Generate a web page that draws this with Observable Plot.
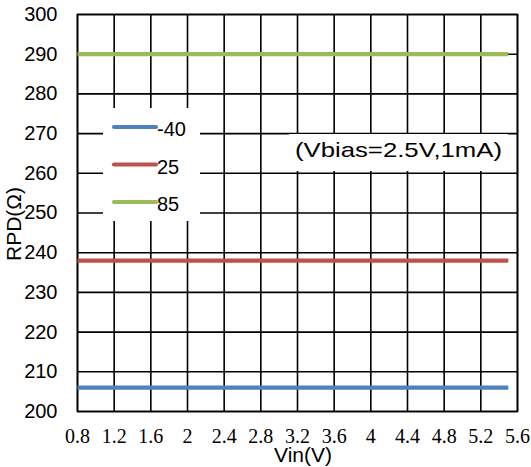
<!DOCTYPE html>
<html>
<head>
<meta charset="utf-8">
<script src="https://cdn.jsdelivr.net/npm/d3@7"></script>
<script src="https://cdn.jsdelivr.net/npm/@observablehq/plot@0.6"></script>
<style>
  html, body { margin: 0; padding: 0; background: white; }
  #chart svg { display: block; }
</style>
</head>
<body>
<div id="chart"></div>
<script>
// ---- data ----
const vin = [0.8, 5.5];                 // Vin (V), line extent
const rpdMinus40 = [206, 206];          // RPD (Ω) at -40
const rpd25 = [238, 238];               // RPD (Ω) at 25
const rpd85 = [290, 290];               // RPD (Ω) at 85
const seriesNames = ["-40", "25", "85"];
const seriesColors = ["#4F81BD", "#C0504D", "#9BBB59"];
const xTicks = [0.8, 1.2, 1.6, 2, 2.4, 2.8, 3.2, 3.6, 4, 4.4, 4.8, 5.2, 5.6];
const xTickLabels = ["0.8", "1.2", "1.6", "2", "2.4", "2.8", "3.2", "3.6", "4", "4.4", "4.8", "5.2", "5.6"];
const yTicks = [200, 210, 220, 230, 240, 250, 260, 270, 280, 290, 300];
const annotation = "(Vbias=2.5V,1mA)";
const xLabel = "Vin(V)";
const yLabel = "RPD(Ω)";

const seriesValues = [rpdMinus40, rpd25, rpd85];
const rows = [];
seriesNames.forEach((name, s) => {
  vin.forEach((v, i) => rows.push({vin: v, rpd: seriesValues[s][i], series: name}));
});

const W = 531, H = 467;
const chart = Plot.plot({
  width: W,
  height: H,
  marginLeft: 77,
  marginRight: 14,
  marginTop: 14,
  marginBottom: 56,
  style: {fontFamily: "'Liberation Sans', Arial, sans-serif", background: "white", color: "black"},
  x: {domain: [0.8, 5.6]},
  y: {domain: [200, 300]},
  color: {domain: seriesNames, range: seriesColors},
  marks: [
    Plot.gridX(xTicks, {stroke: "black", strokeOpacity: 1, strokeWidth: 1.6}),
    Plot.gridY(yTicks, {stroke: "black", strokeOpacity: 1, strokeWidth: 1.6}),
    Plot.frame({stroke: "black", strokeWidth: 1.6}),
    Plot.axisY(yTicks, {tickSize: 0, tickPadding: 20, fontSize: 20, label: null,
      fontFamily: "'Liberation Sans', Arial, sans-serif"}),
    Plot.axisX(xTicks, {tickSize: 0, tickPadding: 17, fontSize: 20, label: null,
      tickFormat: (d) => xTickLabels[xTicks.indexOf(d)],
      fontFamily: "'Liberation Serif', 'Times New Roman', serif"}),
    Plot.line(rows, {x: "vin", y: "rpd", z: "series", stroke: "series", strokeWidth: 4.2, strokeLinecap: "butt"})
  ]
});

const svg = d3.select(chart);
const SANS = "'Liberation Sans', Arial, sans-serif";

// legend box
const lg = svg.append("g").attr("text-anchor", "start");
lg.append("rect").attr("x", 103).attr("y", 108).attr("width", 97).attr("height", 113).attr("fill", "white");
seriesNames.forEach((name, i) => {
  const y = 127 + i * 37.5;
  lg.append("line").attr("x1", 114).attr("x2", 156).attr("y1", y).attr("y2", y)
    .attr("stroke", seriesColors[i]).attr("stroke-width", 4.2).attr("stroke-linecap", "round");
  lg.append("text").attr("x", 157).attr("y", y + 9).attr("font-size", 20)
    .attr("font-family", SANS).attr("fill", "black").text(name);
});

// annotation box
const an = svg.append("g").attr("text-anchor", "start");
an.append("rect").attr("x", 289).attr("y", 134).attr("width", 219).attr("height", 37).attr("fill", "white");
an.append("text").attr("x", 295).attr("y", 157).attr("font-size", 21)
  .attr("textLength", 207).attr("lengthAdjust", "spacingAndGlyphs")
  .attr("font-family", SANS).attr("fill", "black").text(annotation);

// axis titles
svg.append("text").attr("x", 303).attr("y", 462).attr("text-anchor", "middle").attr("font-size", 21)
  .attr("font-family", SANS).attr("fill", "black").text(xLabel);
svg.append("text").attr("transform", "translate(21,224) rotate(-90)").attr("text-anchor", "middle")
  .attr("font-size", 21).attr("font-family", SANS).attr("fill", "black").text(yLabel);

document.getElementById("chart").appendChild(chart);
</script>
</body>
</html>
